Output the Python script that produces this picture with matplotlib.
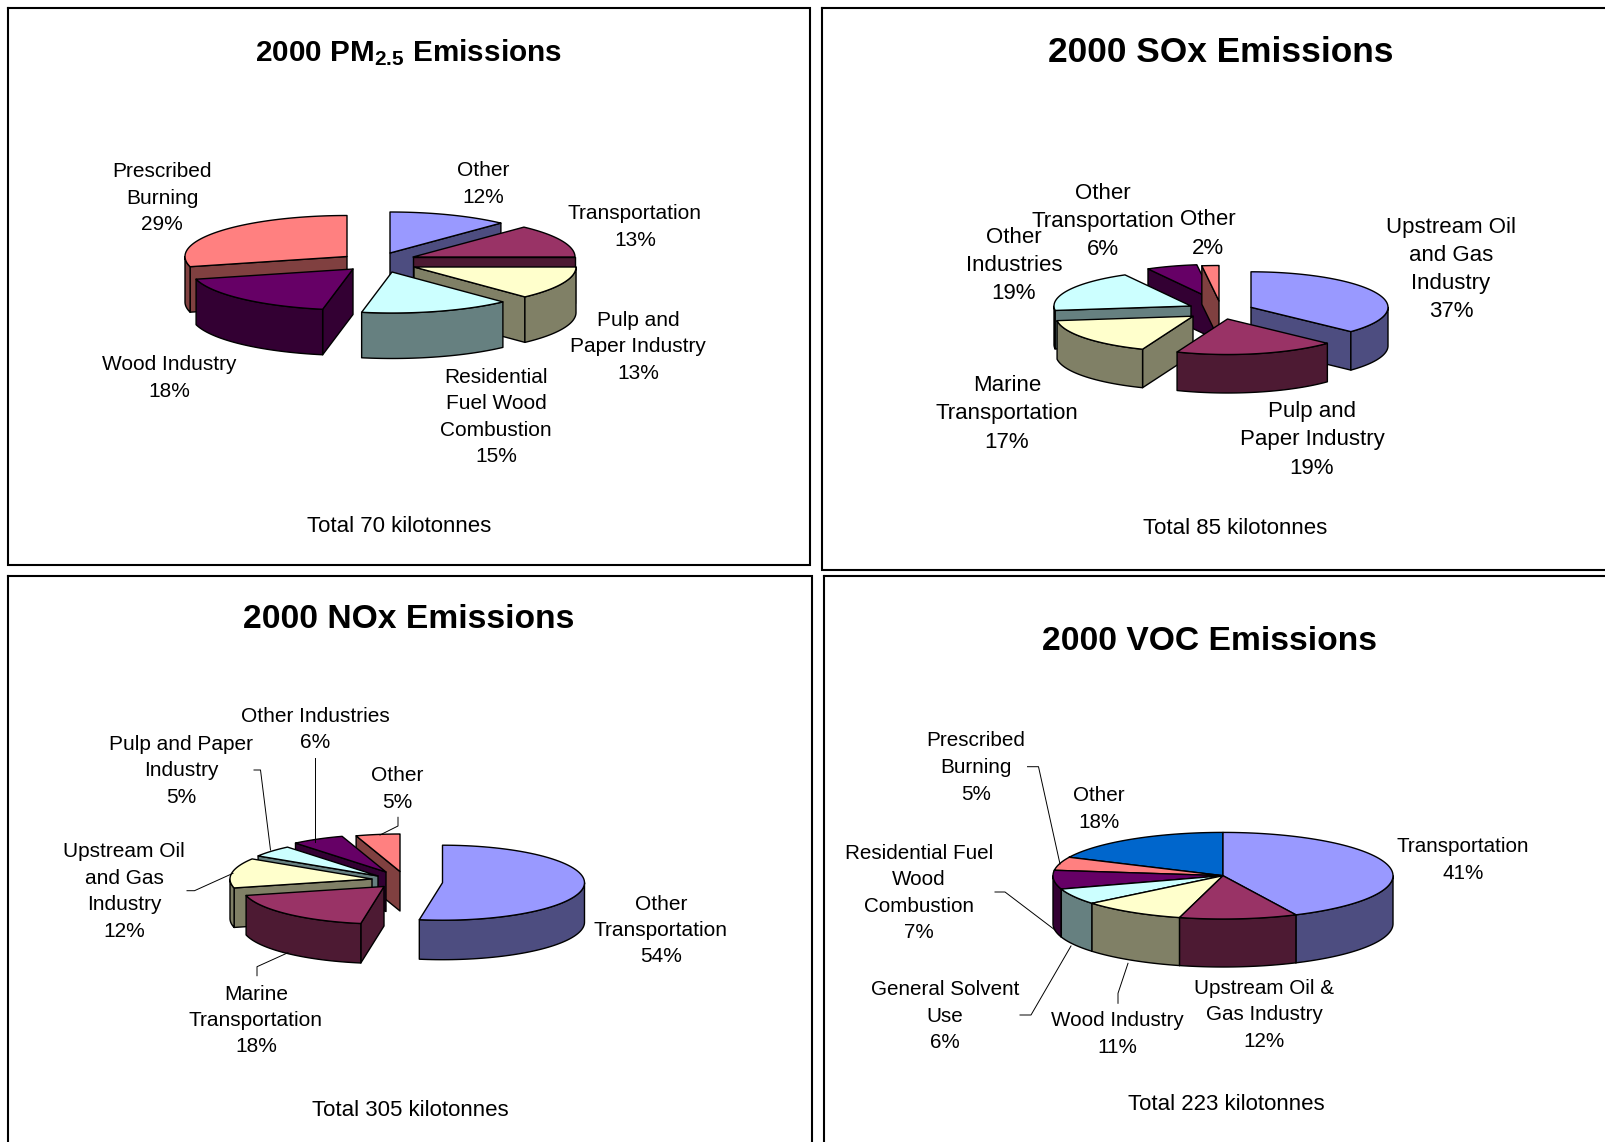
import numpy as np
import matplotlib
matplotlib.use("Agg")
import matplotlib.pyplot as plt

plt.rcParams['font.family'] = ['Liberation Sans', 'DejaVu Sans']
plt.rcParams['mathtext.fontset'] = 'custom'
plt.rcParams['mathtext.bf'] = 'Liberation Sans:bold'
plt.rcParams['mathtext.rm'] = 'Liberation Sans'

# slice colours, top face and side face
top_colors = ['#9999FF', '#993366', '#FFFFCC', '#CCFFFF', '#660066', '#FF8080', '#0066CC']
side_colors = ['#4D4D80', '#4D1A33', '#808066', '#668080', '#330033', '#804040', '#003366']

pm_labels = ['Other\n12%', 'Transportation\n13%', 'Pulp and\nPaper Industry\n13%',
             'Residential\nFuel Wood\nCombustion\n15%', 'Wood Industry\n18%', 'Prescribed\nBurning\n29%']
pm_values = [12, 13, 13, 15, 18, 29]

sox_labels = ['Upstream Oil\nand Gas\nIndustry\n37%', 'Pulp and\nPaper Industry\n19%',
              'Marine\nTransportation\n17%', 'Other\nIndustries\n19%',
              'Other\nTransportation\n6%', 'Other\n2%']
sox_values = [37, 19, 17, 19, 6, 2]

nox_labels = ['Other\nTransportation\n54%', 'Marine\nTransportation\n18%',
              'Upstream Oil\nand Gas\nIndustry\n12%', 'Pulp and Paper\nIndustry\n5%',
              'Other Industries\n6%', 'Other\n5%']
nox_values = [54, 18, 12, 5, 6, 5]

voc_labels = ['Transportation\n41%', 'Upstream Oil &\nGas Industry\n12%', 'Wood Industry\n11%',
              'General Solvent\nUse\n6%', 'Residential Fuel\nWood\nCombustion\n7%',
              'Prescribed\nBurning\n5%', 'Other\n18%']
voc_values = [41, 12, 11, 6, 7, 5, 18]

W, H = 1606, 1142
fig = plt.figure(figsize=(W / 100, H / 100), dpi=100)
ax = fig.add_axes([0, 0, 1, 1])
ax.set_xlim(0, W)
ax.set_ylim(H, 0)
ax.axis('off')


def draw_pie(cx, cy, rx, ry, depth, values, pulls, nudge=None):
    edges = np.concatenate(([0], np.cumsum(values))) / np.sum(values) * 2 * np.pi
    # the 3-D view moves a few slice edges, degrees per edge
    if nudge:
        for k, deg in nudge.items():
            edges[k] += np.radians(deg)
    mids = (edges[:-1] + edges[1:]) / 2
    # back slices first, so the front ones cover them
    order = np.argsort([p[1] - 0.001 * np.cos(m) for p, m in zip(pulls, mids)])
    for i in order:
        t0, t1 = edges[i], edges[i + 1]
        ox, oy = cx + pulls[i][0], cy + pulls[i][1]
        t = np.linspace(t0, t1, 80)
        ex, ey = ox + rx * np.sin(t), oy - ry * np.cos(t)

        style = dict(edgecolor='black', linewidth=1.0, joinstyle='round')
        # radial walls, only the ones that face the viewer
        if np.sin(t0) < -1e-6:
            ax.fill([ox, ex[0], ex[0], ox], [oy, ey[0], ey[0] + depth, oy + depth],
                    facecolor=side_colors[i], **style)
        if np.sin(t1) > 1e-6:
            ax.fill([ox, ex[-1], ex[-1], ox], [oy, ey[-1], ey[-1] + depth, oy + depth],
                    facecolor=side_colors[i], **style)
        # outer wall, front half of the ellipse
        a, b = max(t0, np.pi / 2), min(t1, 1.5 * np.pi)
        if b > a:
            tw = np.linspace(a, b, 60)
            wx, wy = ox + rx * np.sin(tw), oy - ry * np.cos(tw)
            ax.fill(np.r_[wx, wx[::-1]], np.r_[wy, wy[::-1] + depth],
                    facecolor=side_colors[i], **style)
        ax.fill(np.r_[ox, ex], np.r_[oy, ey], facecolor=top_colors[i], **style)


def frame(x0, y0, x1, y1):
    ax.plot([x0, x1, x1, x0, x0], [y0, y0, y1, y1, y0], color='black', lw=1.5,
            solid_joinstyle='miter')


def labels(texts, spots, size, spacing=1.5):
    for s, (x, y) in zip(texts, spots):
        ax.text(x, y, s, fontsize=size, ha='center', va='center', linespacing=spacing, color='black')


def leader(xs, ys):
    ax.plot(xs, ys, color='black', lw=0.7)


frame(8, 8, 810, 565)
frame(822.5, 8, 1620, 570)
frame(8, 575.5, 812, 1160)
frame(824, 575.5, 1620, 1160)

# PM2.5
ax.text(408, 53, r'2000 PM$\mathbf{_{2.5}}$ Emissions', fontsize=21.4, fontweight='bold', ha='center', va='center')
draw_pie(368, 262, 162, 41, 45.5, pm_values,
         [(22, -9), (45, -5), (46, 5), (24, 10), (-15, 7), (-21, -5.5)])
labels(pm_labels, [(483, 184), (635, 227), (638, 347), (496, 417), (169, 378), (162, 198)], 15)
ax.text(399, 526, 'Total 70 kilotonnes', fontsize=16, ha='center', va='center')

# SOx
ax.text(1221, 52, '2000 SOx Emissions', fontsize=25.4, fontweight='bold', ha='center', va='center')
draw_pie(1215, 310, 137, 35.5, 38.5, sox_values,
         [(36, -2.7), (12.5, 9), (-22, 6.2), (-24, -4), (-1, -10), (4, -9)])
labels(sox_labels, [(1451, 269.5), (1312, 440), (1007, 414), (1014, 265.5), (1103, 221.5), (1207.5, 234)], 16, 1.45)
ax.text(1235, 529, 'Total 85 kilotonnes', fontsize=16, ha='center', va='center')

# NOx
ax.text(409, 620, '2000 NOx Emissions', fontsize=24.2, fontweight='bold', ha='center', va='center')
draw_pie(395, 880, 142, 37.5, 39.5, nox_values,
         [(47.5, 2.7), (-11, 6.5), (-23, -1), (-17, -4), (-9, -8), (5, -8.5)],
         nudge={1: -5, 2: -3})
labels(nox_labels, [(661, 930.5), (256, 1020.5), (124, 891.5), (181, 771), (315, 729.5), (397, 789)], 15)
ax.text(410, 1111, 'Total 305 kilotonnes', fontsize=16, ha='center', va='center')
leader([254, 260.5, 270.5], [770, 770, 850])
leader([315.5, 315.5], [758.3, 841.7])
leader([398, 398, 380], [817.3, 826, 835])
leader([187, 194.5, 233], [890.7, 890.7, 873.3])
leader([257, 257, 288], [975.7, 966.7, 952.7])

# VOC
ax.text(1209.5, 641, '2000 VOC Emissions', fontsize=24.2, fontweight='bold', ha='center', va='center')
draw_pie(1223, 875.7, 170, 43.3, 48, voc_values, [(0, 0)] * 7, nudge={1: 7, 2: 4})
labels(voc_labels, [(1463, 860), (1264, 1015), (1117, 1034), (945, 1016), (919, 893), (976, 767.5), (1099, 809)], 14.9)
ax.text(1226, 1104, 'Total 223 kilotonnes', fontsize=16, ha='center', va='center')
leader([1027.5, 1038.5, 1060], [766.7, 766.7, 864])
leader([995, 1005, 1055], [892, 892, 930])
leader([1020, 1031, 1071], [1015, 1015, 946])
leader([1118, 1118, 1128], [1003.3, 993.3, 963.3])

fig.savefig('out.png', dpi=100, facecolor='white')
